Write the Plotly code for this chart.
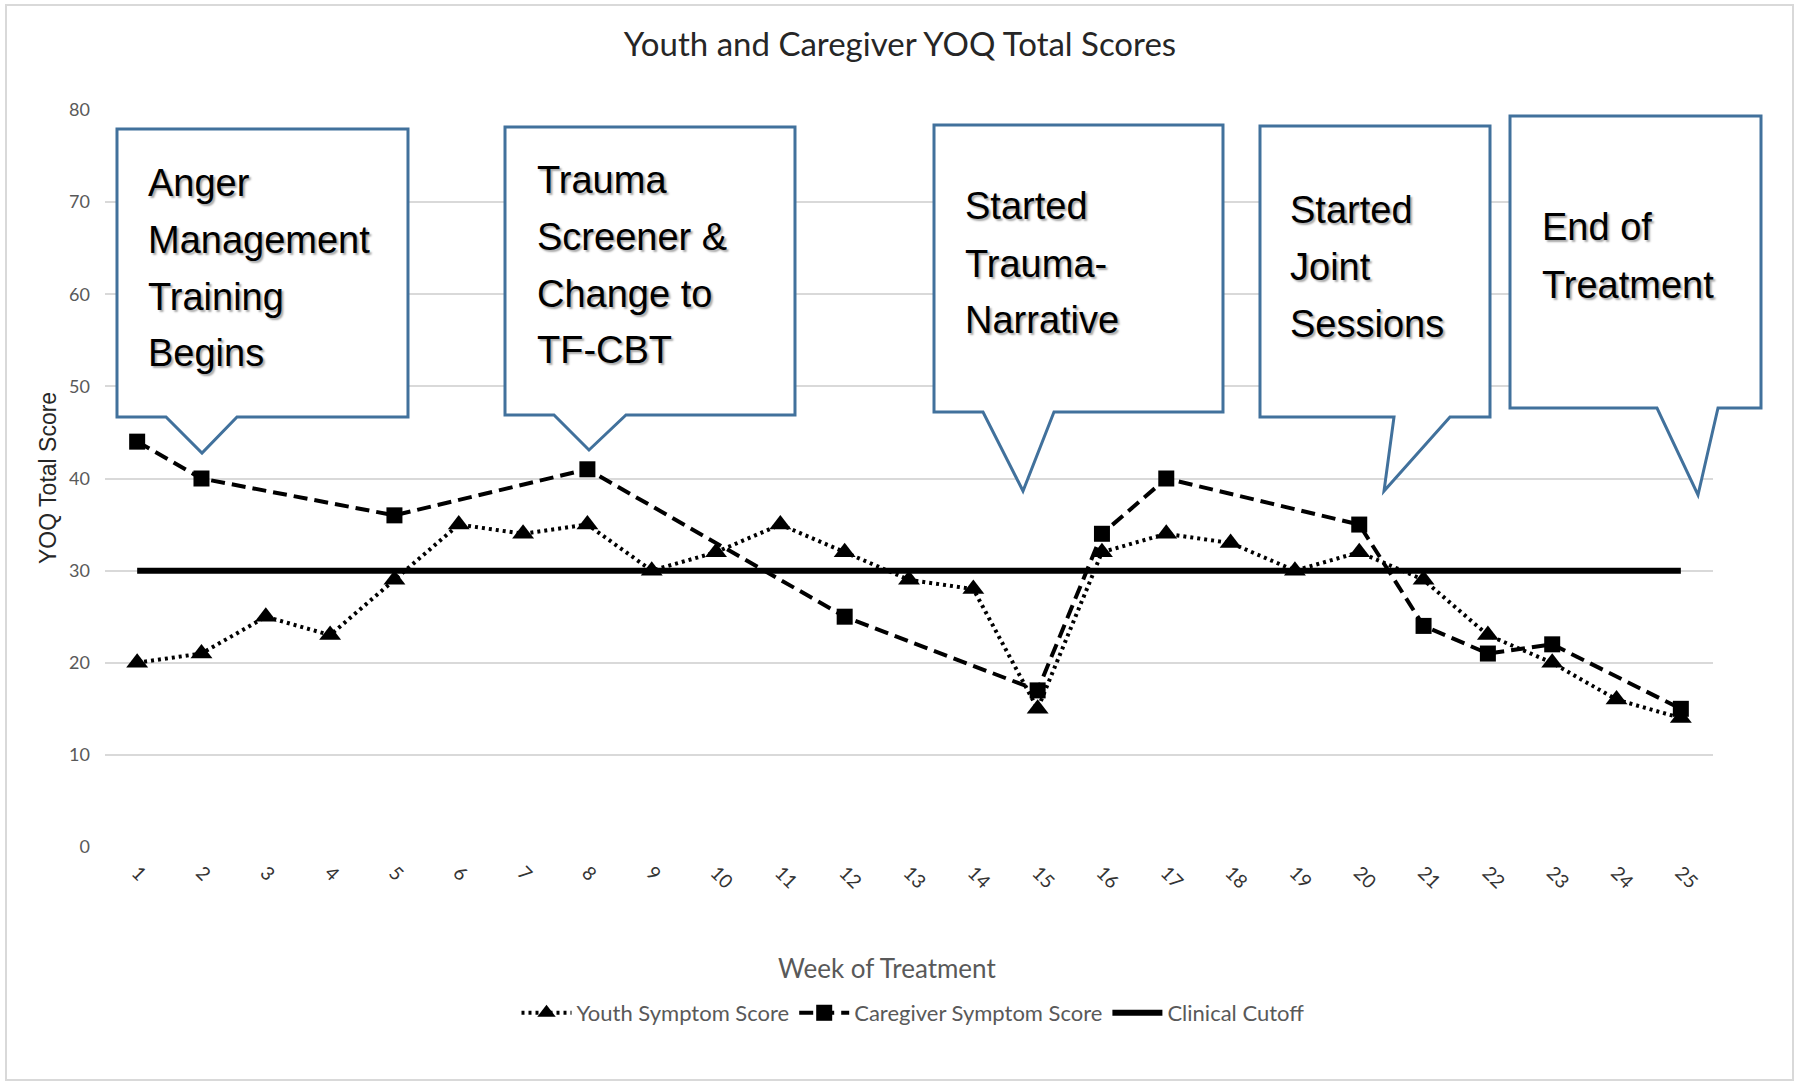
import plotly.graph_objects as go

weeks = [str(i) for i in range(1, 26)]
youth = [20, 21, 25, 23, 29, 35, 34, 35, 30, 32, 35, 32, 29, 28, 15, 32, 34, 33, 30, 32, 29, 23, 20, 16, 14]
caregiver = [44, 40, None, None, 36, None, None, 41, None, None, None, 25, None, None, 17, 34, 40, None, None, 35, 24, 21, 22, None, 15]
cutoff = [30] * 25
y_ticks = [0, 10, 20, 30, 40, 50, 60, 70, 80]

W, H = 1800, 1086
PL, PR, PT, PB = 105, 1713, 110, 847
BLUE = "#41719C"
GRAY = "#595959"


def px(x):
    return (x - PL) / (PR - PL)


def py(y):
    return (PB - y) / (PB - PT)


fig = go.Figure()
fig.add_trace(go.Scatter(
    x=weeks, y=youth, name="Youth Symptom Score", mode="lines+markers",
    line=dict(color="black", width=4, dash="3px,4px"),
    marker=dict(symbol="triangle-up", size=19, color="black")))
fig.add_trace(go.Scatter(
    x=weeks, y=caregiver, name="Caregiver Symptom Score", mode="lines+markers",
    connectgaps=True,
    line=dict(color="black", width=4, dash="14px,7px"),
    marker=dict(symbol="square", size=16, color="black")))
fig.add_trace(go.Scatter(
    x=weeks, y=cutoff, name="Clinical Cutoff", mode="lines",
    line=dict(color="black", width=6)))

# callouts: box left, right, top, bottom, pointer base1, base2, tip x, tip y, text x, lines, baselines
callouts = [
    (117, 408, 129, 417, 166, 237, 202, 453, 148,
     ["Anger", "Management", "Training", "Begins"], [196, 253, 310, 366]),
    (505, 795, 127, 415, 554, 626, 589, 450, 537,
     ["Trauma", "Screener &", "Change to", "TF-CBT"], [193, 250, 307, 363]),
    (934, 1223, 125, 412, 983, 1054, 1023, 491, 965,
     ["Started", "Trauma-", "Narrative"], [219, 277, 333]),
    (1260, 1490, 126, 417, 1394, 1450, 1384, 491, 1290,
     ["Started", "Joint", "Sessions"], [223, 280, 337]),
    (1510, 1761, 116, 408, 1657, 1718, 1698, 495, 1542,
     ["End of", "Treatment"], [240, 298]),
]

shapes = []
annotations = []
FS = 38
for (l, r, t, b, b1, b2, tx, ty, txl, lines, bases) in callouts:
    pts = [(l, t), (r, t), (r, b), (b2, b), (tx, ty), (b1, b), (l, b)]
    path = "M " + " L ".join(f"{px(x):.5f},{py(y):.5f}" for x, y in pts) + " Z"
    shapes.append(dict(type="path", xref="paper", yref="paper", path=path,
                       fillcolor="white", line=dict(color=BLUE, width=3), layer="above"))
    for txt, base in zip(lines, bases):
        annotations.append(dict(
            text=txt, xref="paper", yref="paper", x=px(txl - 2), y=py(base - 0.34 * FS),
            xanchor="left", yanchor="middle", showarrow=False,
            font=dict(family="Liberation Sans, Arial, sans-serif", size=FS, color="black",
                      shadow="2px 2px 2px rgba(0,0,0,0.35)")))

# outer border
shapes.append(dict(type="rect", xref="paper", yref="paper",
                   x0=px(6), x1=px(1793), y0=py(5), y1=py(1080),
                   line=dict(color="#D9D9D9", width=2), fillcolor="rgba(0,0,0,0)", layer="below"))

annotations.append(dict(
    text="YOQ Total Score", xref="paper", yref="paper", x=px(48), y=py(478),
    xanchor="center", yanchor="middle", textangle=-90, showarrow=False,
    font=dict(family="Liberation Sans, Arial, sans-serif", size=23, color="#262626")))
annotations.append(dict(
    text="Week of Treatment", xref="paper", yref="paper", x=px(887), y=py(968),
    xanchor="center", yanchor="middle", showarrow=False,
    font=dict(family="Lato, sans-serif", size=26, color=GRAY)))

fig.update_layout(
    width=W, height=H,
    margin=dict(l=PL, r=W - PR, t=PT, b=H - PB, autoexpand=False),
    paper_bgcolor="white", plot_bgcolor="white",
    title=dict(text="Youth and Caregiver YOQ Total Scores", xref="container", x=0.5,
               y=1 - 44 / H, yanchor="middle", xanchor="center",
               font=dict(family="Lato, sans-serif", size=33, color="#262626")),
    showlegend=True,
    legend=dict(orientation="h", x=px(913), y=py(1013), xanchor="center", yanchor="middle",
                font=dict(family="Lato, sans-serif", size=22, color=GRAY),
                bgcolor="rgba(0,0,0,0)", itemwidth=50),
    shapes=shapes,
    annotations=annotations,
)
fig.update_xaxes(type="category", range=[-0.5, 24.5], showgrid=False, showline=False,
                 zeroline=False, tickangle=45, ticks="", ticklabelstandoff=10,
                 tickfont=dict(family="Lato, sans-serif", size=19, color="#333333"))
fig.update_yaxes(range=[0, 80], tickvals=y_ticks, showgrid=True, gridcolor="#D9D9D9",
                 gridwidth=1.5, zeroline=False, showline=False, ticks="", ticklabelstandoff=14,
                 tickfont=dict(family="Lato, sans-serif", size=18, color=GRAY))

fig.write_html("out.html", config={"displayModeBar": False},
               post_script="document.body.style.margin='0';")
